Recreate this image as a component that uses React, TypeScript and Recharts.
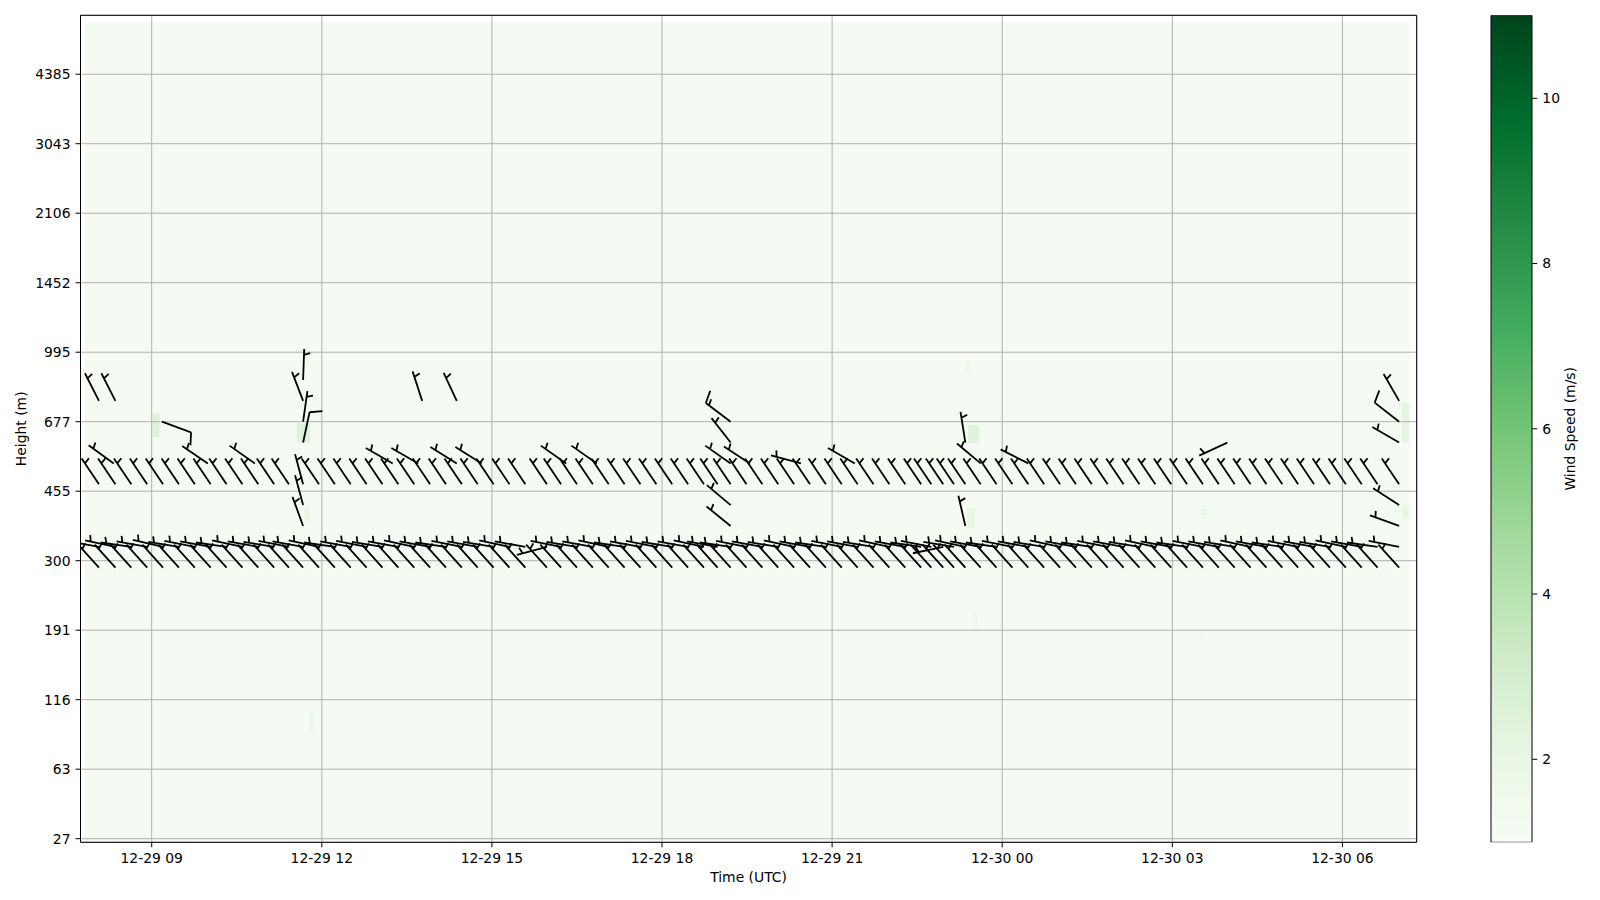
import React from 'react';
import { ComposedChart, Scatter, Bar, XAxis, YAxis, CartesianGrid, ReferenceArea } from 'recharts';

// profile times, hours since 12-29 00 UTC
const profileTimes = [
  8.07, 8.36, 8.64, 8.92, 9.20, 9.48, 9.76, 10.04, 10.32, 10.60, 10.88, 11.16, 11.42, 11.67,
  11.95, 12.23, 12.51, 12.79, 13.07, 13.35, 13.63, 13.91, 14.19, 14.47, 14.75, 15.03, 15.31, 15.59,
  15.97, 16.22, 16.50, 16.78, 17.06, 17.34, 17.62, 17.90, 18.18, 18.46, 18.74, 18.98, 19.21, 19.49,
  19.77, 20.05, 20.33, 20.61, 20.89, 21.17, 21.45, 21.73, 22.01, 22.29, 22.57, 22.75, 22.96, 23.15,
  23.35, 23.62, 23.90, 24.18, 24.46, 24.74, 25.02, 25.30, 25.58, 25.86, 26.14, 26.42, 26.70, 26.98,
  27.26, 27.54, 27.82, 28.10, 28.38, 28.66, 28.94, 29.22, 29.50, 29.78, 30.06, 30.34, 30.62, 31.00,
];

const heightLabels = ['27', '63', '116', '191', '300', '455', '677', '995', '1452', '2106', '3043', '4385'];
const gateTicks = [0, 10, 20, 30, 40, 50, 60, 70, 80, 90, 100, 110];
const timeTicks = [9, 12, 15, 18, 21, 24, 27, 30];
const speedTicks = [2, 4, 6, 8, 10];

// barb rows (gate index), wind-from direction in degrees and speed in m/s
const dirGate39 = [
  318, 318, 318, 318, 318, 318, 318, 318, 318, 318, 318, 318, 318, 318,
  318, 318, 318, 318, 318, 318, 318, 318, 318, 318, 318, 318, 318, 318,
  318, 318, 318, 318, 318, 318, 318, 318, 318, 318, 318, 318, 318, 318,
  318, 318, 318, 318, 318, 318, 318, 318, 318, 318, 318, 318, 318, 318,
  318, 318, 318, 318, 318, 318, 318, 318, 318, 318, 318, 318, 318, 318,
  318, 318, 318, 318, 318, 318, 318, 318, 318, 318, 318, 318, 318, 318,
];
const spdGate39 = [
  6, 6, 6, 6, 6, 6, 6, 6, 6, 6, 6, 6, 6, 6,
  6, 6, 6, 6, 6, 6, 6, 6, 6, 6, 6, 6, 6, 6,
  6, 6, 6, 6, 6, 6, 6, 6, 6, 6, 6, 6, 6, 6,
  6, 6, 6, 6, 6, 6, 6, 6, 6, 6, 6, 6, 6, 6,
  6, 6, 6, 6, 6, 6, 6, 6, 6, 6, 6, 6, 6, 6,
  6, 6, 6, 6, 6, 6, 6, 6, 6, 6, 6, 6, 6, 6,
];
const dirGate42 = [
  280, 282, 278, 280, 283, 279, 281, 280, 278, 282, 280, 279, 281, 280,
  282, 278, 280, 281, 279, 280, 282, 280, 278, 281, 280, 279, 282, 280,
  255, 281, 279, 280, 282, 278, 280, 281, 279, 280, 282, 280, 278, 281,
  280, 279, 282, 280, 278, 281, 280, 279, 282, 280, 278, 281, 258, 279,
  282, 280, 278, 281, 280, 279, 282, 280, 278, 281, 280, 279, 282, 280,
  278, 281, 280, 279, 282, 280, 278, 281, 280, 279, 282, 280, 278, 281,
];
const spdGate42 = [
  6, 6, 6, 6, 6, 6, 6, 6, 6, 6, 6, 6, 6, 6,
  6, 6, 6, 6, 6, 6, 6, 6, 6, 6, 6, 6, 6, 6,
  6, 6, 6, 6, 6, 6, 6, 6, 6, 6, 6, 6, 6, 6,
  6, 6, 6, 6, 6, 6, 6, 6, 6, 6, 6, 6, 6, 6,
  6, 6, 6, 6, 6, 6, 6, 6, 6, 6, 6, 6, 6, 6,
  6, 6, 6, 6, 6, 6, 6, 6, 6, 6, 6, 6, 6, 6,
];
const dirGate51 = [
  326, 326, 326, 326, 326, 326, 326, 326, 326, 326, 326, 326, 326, 345,
  326, 326, 326, 326, 326, 326, 326, 326, 326, 326, 326, 326, 326, 326,
  326, 326, 326, 326, 326, 326, 326, 326, 326, 326, 326, 326, 326, 326,
  326, 326, 326, 326, 326, 326, 326, 326, 326, 326, 326, 326, 326, 326,
  326, 326, 326, 326, 326, 326, 326, 326, 326, 326, 326, 326, 326, 326,
  326, 326, 326, 326, 326, 326, 326, 326, 326, 326, 326, 326, 326, 326,
];
const spdGate51 = [
  6, 6, 6, 6, 6, 6, 6, 6, 6, 6, 6, 6, 6, 6,
  6, 6, 6, 6, 6, 6, 6, 6, 6, 6, 6, 6, 6, 6,
  6, 6, 6, 6, 6, 6, 6, 6, 6, 6, 6, 6, 6, 6,
  6, 6, 6, 6, 6, 6, 6, 6, 6, 6, 6, 6, 6, 6,
  6, 6, 6, 6, 6, 6, 6, 6, 6, 6, 6, 6, 6, 6,
  6, 6, 6, 6, 6, 6, 6, 6, 6, 6, 6, 6, 6, 6,
];

// sparse barbs at other gates
const extraTimes = [
  8.07, 8.36, 8.33, 9.18, 9.99, 10.82, 11.67, 11.67, 11.67, 11.67, 11.67, 11.67, 13.25,
  13.70, 13.77, 14.38, 14.38, 14.82, 16.31, 16.85, 19.21, 19.21, 19.21, 19.21, 19.21,
  19.55, 20.45, 21.40, 23.35, 23.62, 23.35, 24.46, 27.97, 31.0, 31.0, 31.0, 31.0, 31.0,
];
const extraGates = [
  63, 63, 54, 60, 54, 54, 66, 63, 60, 57, 48, 45, 54,
  54, 63, 63, 54, 54, 54, 54, 60, 57, 54, 48, 45,
  54, 54, 54, 57, 54, 45, 54, 57, 63, 60, 57, 48, 45,
];
const extraDirs = [
  333, 333, 306, 110, 304, 305, 2, 339, 8, 12, 345, 340, 300,
  300, 342, 335, 302, 302, 305, 305, 307, 322, 305, 310, 309,
  303, 285, 300, 351, 310, 347, 297, 245, 330, 308, 300, 303, 290,
];
const extraSpds = [
  6, 6, 6, 10, 6, 6, 6, 6, 6, 10, 6, 6, 6,
  6, 6, 6, 6, 6, 6, 6, 15, 6, 6, 6, 6,
  6, 6, 6, 6, 6, 6, 6, 6, 6, 10, 6, 6, 6,
];

// faint wind speed cells in the background field
const cellStart = [9.02, 11.56, 11.70, 23.40, 23.38, 11.78, 23.35, 27.52, 23.48, 27.49, 31.05, 31.05];
const cellEnd = [9.14, 11.79, 11.79, 23.60, 23.52, 11.87, 23.44, 27.61, 23.57, 27.58, 31.17, 31.17];
const cellLow = [57.8, 56.9, 45.8, 56.9, 44.7, 15.2, 67, 46, 30, 28.5, 57, 46];
const cellHigh = [61.2, 59.8, 47.8, 59.5, 47.6, 18.3, 68.5, 48, 32.6, 29.5, 62.7, 48];
const cellSpeed = [2.6, 2.5, 2.0, 2.5, 2.0, 1.8, 1.8, 1.8, 1.6, 1.6, 2.2, 2.0];

const greens = ['#f7fcf5', '#e5f5e0', '#c7e9c0', '#a1d99b', '#74c476', '#41ab5d', '#238b45', '#006d2c', '#00441b'];
const VMIN = 0.995;
const VMAX = 11.005;

const hex = (c: string) => [1, 3, 5].map((i) => parseInt(c.slice(i, i + 2), 16));
const greenColor = (v: number) => {
  const f = Math.min(1, Math.max(0, (v - VMIN) / (VMAX - VMIN))) * (greens.length - 1);
  const i = Math.min(greens.length - 2, Math.floor(f));
  const a = hex(greens[i]);
  const b = hex(greens[i + 1]);
  const t = f - i;
  return `rgb(${a.map((x, k) => Math.round(x + (b[k] - x) * t)).join(',')})`;
};

const XMIN = 7.744;
const XMAX = 31.31;
const YMIN = -0.52;
const YMAX = 118.48;
const FONT = 'DejaVu Sans, sans-serif';

const rowData = (gate: number, dirs: number[], spds: number[]) =>
  profileTimes.map((t, i) => ({ t, g: gate, dir: dirs[i], spd: spds[i] }));

const extraData = extraTimes.map((t, i) => ({ t, g: extraGates[i], dir: extraDirs[i], spd: extraSpds[i] }));

const colorbarData = [{ name: 'speed', range: [VMIN, VMAX] }];

// matplotlib style barb, pivot at the tip
const Barb = (props: any) => {
  const { cx, cy, payload } = props;
  if (cx == null || cy == null || !payload) return null;
  const L = 31;
  const a = (payload.dir * Math.PI) / 180;
  const sx = Math.sin(a);
  const sy = -Math.cos(a);
  const fx = Math.cos(a);
  const fy = Math.sin(a);
  const p = (s: number, q: number) => `${cx + sx * s + fx * q},${cy + sy * s + fy * q}`;
  const mag = 5 * Math.round(payload.spd / 5);
  let d = `M${p(0, 0)}L${p(L, 0)}`;
  let off = L;
  for (let i = 0; i < Math.floor(mag / 10); i++) {
    d += `M${p(off, 0)}L${p(off + 0.125 * L, 0.4 * L)}`;
    off -= 0.125 * L;
  }
  if (mag % 10 >= 5) {
    if (off === L) off -= 0.1875 * L;
    d += `M${p(off, 0)}L${p(off + 0.0625 * L, 0.2 * L)}`;
  }
  return <path d={d} stroke="#000" strokeWidth={1.8} fill="none" />;
};

const timeLabel = (h: number) => (h < 24 ? `12-29 ${String(h).padStart(2, '0')}` : `12-30 ${String(h - 24).padStart(2, '0')}`);

export default function App() {
  const tickStyle = { fill: '#000', fontSize: 13.9, fontFamily: FONT };
  return (
    <div style={{ position: 'absolute', left: 0, top: 0, width: 1600, height: 900, background: '#fff' }}>
      <div style={{ position: 'absolute', left: 0, top: 0 }}>
        <ComposedChart width={1600} height={900} margin={{ top: 15.3, right: 183.3, bottom: 27.7, left: 20.5 }}>
          <XAxis
            type="number"
            dataKey="t"
            domain={[XMIN, XMAX]}
            ticks={timeTicks}
            tickFormatter={timeLabel}
            allowDataOverflow
            height={30}
            axisLine={false}
            tickLine={{ stroke: '#000' }}
            tickSize={5}
            tickMargin={6}
            tick={tickStyle}
          />
          <YAxis
            type="number"
            dataKey="g"
            domain={[YMIN, YMAX]}
            ticks={gateTicks}
            tickFormatter={(g: number) => heightLabels[Math.round(g / 10)]}
            allowDataOverflow
            width={60}
            axisLine={false}
            tickLine={{ stroke: '#000' }}
            tickSize={5}
            tickMargin={5}
            tick={tickStyle}
          />
          <ReferenceArea x1={7.824} x2={31.196} y1={YMIN} y2={117.5} fill="#f5fbf2" fillOpacity={1} stroke="none" zIndex={-300} />
          {cellStart.map((s, i) => (
            <ReferenceArea
              key={`cell${i}`}
              x1={s}
              x2={cellEnd[i]}
              y1={cellLow[i]}
              y2={cellHigh[i]}
              fill={greenColor(cellSpeed[i])}
              fillOpacity={1}
              stroke="none"
              zIndex={-250}
            />
          ))}
          <CartesianGrid stroke="#b0b0b0" strokeWidth={1} />
          <Scatter data={rowData(39, dirGate39, spdGate39)} shape={Barb} isAnimationActive={false} />
          <Scatter data={rowData(42, dirGate42, spdGate42)} shape={Barb} isAnimationActive={false} />
          <Scatter data={rowData(51, dirGate51, spdGate51)} shape={Barb} isAnimationActive={false} />
          <Scatter data={extraData} shape={Barb} isAnimationActive={false} />
          <ReferenceArea x1={XMIN} x2={XMAX} y1={YMIN} y2={YMAX} fill="none" stroke="#000" strokeWidth={1} zIndex={2000} />
        </ComposedChart>
      </div>

      <div style={{ position: 'absolute', left: 1481, top: 0 }}>
        <ComposedChart
          width={112}
          height={900}
          data={colorbarData}
          margin={{ top: 15.3, right: 0.7, bottom: 57.7, left: 10 }}
          barCategoryGap={0}
        >
          <defs>
            <linearGradient id="greensBar" x1="0" y1="1" x2="0" y2="0">
              {greens.map((c, i) => (
                <stop key={c} offset={`${(i / (greens.length - 1)) * 100}%`} stopColor={c} />
              ))}
            </linearGradient>
          </defs>
          <XAxis type="category" dataKey="name" hide height={0} />
          <YAxis
            type="number"
            orientation="right"
            domain={[VMIN, VMAX]}
            ticks={speedTicks}
            allowDataOverflow
            width={60}
            axisLine={false}
            tickLine={{ stroke: '#000' }}
            tickSize={5}
            tickMargin={5}
            tick={{ ...tickStyle, textAnchor: 'start' }}
          />
          <Bar dataKey="range" fill="url(#greensBar)" stroke="#000" strokeWidth={1} isAnimationActive={false} />
        </ComposedChart>
      </div>

      <svg width={1600} height={900} style={{ position: 'absolute', left: 0, top: 0, pointerEvents: 'none' }}>
        <text x={748.6} y={882} textAnchor="middle" fontFamily={FONT} fontSize={13.9} fill="#000">
          Time (UTC)
        </text>
        <text x={21} y={428.8} textAnchor="middle" dominantBaseline="central" transform="rotate(-90 21 428.8)" fontFamily={FONT} fontSize={13.9} fill="#000">
          Height (m)
        </text>
        <text x={1570} y={428.8} textAnchor="middle" dominantBaseline="central" transform="rotate(-90 1570 428.8)" fontFamily={FONT} fontSize={13.9} fill="#000">
          Wind Speed (m/s)
        </text>
      </svg>
    </div>
  );
}
